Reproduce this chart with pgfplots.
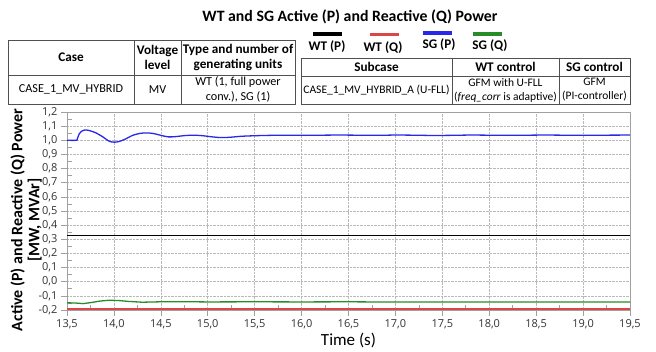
\documentclass[border=0pt]{standalone}
\usepackage{fontspec}
\setmainfont{Carlito}
\newfontfamily\tickfont{Open Sans}
\usepackage{pgfplots}
\pgfplotsset{compat=1.18}
\definecolor{sgblue}{RGB}{40,40,235}
\definecolor{sggreen}{RGB}{40,140,40}
\definecolor{wtred}{RGB}{220,70,70}
\definecolor{tabline}{RGB}{80,80,80}
\definecolor{frame}{RGB}{160,160,160}

\pgfplotstableread{
t v
13.5 1.0
13.6 1.0
13.61 1.01
13.63 1.045
13.66 1.066
13.69 1.073
13.73 1.07
13.8 1.055
13.88 1.025
13.95 0.993
14.0 0.987
14.05 0.99
14.12 1.008
14.2 1.035
14.28 1.049
14.35 1.052
14.42 1.048
14.5 1.035
14.58 1.024
14.66 1.026
14.75 1.033
14.85 1.036
14.95 1.032
15.05 1.024
15.15 1.019
15.25 1.022
15.35 1.028
15.45 1.031
15.6 1.034
15.8 1.036
16.0 1.035
16.2 1.036
16.4 1.037
16.6 1.036
16.8 1.035
17.0 1.037
17.2 1.036
17.4 1.034
17.6 1.035
17.8 1.037
18.0 1.036
18.2 1.035
18.4 1.036
18.6 1.037
18.8 1.036
19.0 1.035
19.2 1.036
19.5 1.037
}\sgP

\pgfplotstableread{
t v
13.5 -0.149
13.6 -0.151
13.67 -0.155
13.75 -0.148
13.85 -0.137
13.95 -0.131
14.05 -0.133
14.15 -0.139
14.3 -0.145
14.5 -0.142
14.7 -0.141
15.0 -0.143
15.5 -0.142
16.0 -0.143
16.5 -0.142
17.0 -0.144
17.5 -0.143
18.0 -0.144
18.5 -0.143
19.0 -0.144
19.5 -0.144
}\sgQ

\pgfplotstableread{
t v
13.5 -0.193
19.5 -0.193
}\wtQ

\pgfplotstableread{
t v
13.5 0.328
19.5 0.328
}\wtP

\begin{document}
\begin{tikzpicture}
\path[use as bounding box] (0,0) rectangle (656pt,-352pt);
\begin{scope}[x=1pt,y=-1pt]
% title
\node at (350,17) {\fontsize{15.8}{18}\selectfont\bfseries WT and SG Active (P) and Reactive (Q) Power};
% left table
\draw[tabline, line width=0.8pt] (8,40) rectangle (295,104);
\draw[tabline, line width=0.8pt] (8,75) -- (295,75) (134,40) -- (134,104) (181,40) -- (181,104);
\begin{scope}[every node/.style={font=\fontsize{13.2}{15}\selectfont\bfseries, align=center, inner sep=0pt}]
\node at (71,57.5) {Case};
\node at (157.5,57.5) {Voltage\\level};
\node at (238,57.5) {Type and number of\\generating units};
\node at (376.5,67) {Subcase};
\node at (505.5,67) {WT control};
\node at (594.5,67) {SG control};
% legend
\node at (327,47) {WT (P)};
\node at (383,48) {WT (Q)};
\node at (439,45) {SG (P)};
\node at (490,46) {SG (Q)};
\end{scope}
\begin{scope}[every node/.style={font=\fontsize{12.2}{14.5}\selectfont, align=center, inner sep=0pt}]
\node at (71,89.5) {CASE\_1\_MV\_HYBRID};
\node at (157.5,89.5) {MV};
\node at (238,89.5) {WT (1, full power\\conv.), SG (1)};
\end{scope}
\begin{scope}[every node/.style={font=\fontsize{11.5}{14}\selectfont, align=center, inner sep=0pt}]
\node at (376.5,90) {CASE\_1\_MV\_HYBRID\_A (U-FLL)};
\node at (505.5,90) {GFM with U-FLL\\(\textit{freq\_corr} is adaptive)};
\node at (594.5,90) {GFM\\(PI-controller)};
\end{scope}
\draw[tabline, line width=0.8pt] (301,58) rectangle (630,104);
\draw[tabline, line width=0.8pt] (301,76) -- (630,76) (452,58) -- (452,104) (559,58) -- (559,104);
\fill[black] (313,32.5) rectangle (342,36);
\fill[wtred] (370,33) rectangle (399,36.5);
\fill[sgblue] (423,31.5) rectangle (452,35);
\fill[sggreen] (473,32.5) rectangle (502,36);
\end{scope}

\begin{axis}[
  at={(67pt,-310pt)}, anchor=south west,
  scale only axis, width=563pt, height=198pt,
  xmin=13.5, xmax=19.5, ymin=-0.2, ymax=1.2,
  xtick={13.5,14,14.5,15,15.5,16,16.5,17,17.5,18,18.5,19,19.5},
  ytick={-0.2,-0.1,0,0.1,0.2,0.3,0.4,0.5,0.6,0.7,0.8,0.9,1.0,1.1,1.2},
  minor x tick num=1, minor y tick num=1,
  xtick pos=bottom, ytick pos=left,
  tick align=outside,
  major tick length=6pt, minor tick length=5pt,
  minor x tick style={yshift=5pt}, minor y tick style={xshift=5pt},
  tick style={frame, line width=0.6pt},
  axis line style={frame, line width=0.8pt},
  grid=major,
  major grid style={densely dotted, gray!55, line width=0.6pt},
  /pgf/number format/assume math mode=true,
  /pgf/number format/.cd, fixed, fixed zerofill, precision=1, use comma,
  /pgfplots/.cd,
  ticklabel style={font=\tickfont\fontsize{11}{13}\selectfont, text=black!80},
  xlabel={Time (s)},
  ylabel={Active (P) and Reactive (Q) Power\\{[}MW, MVAr{]}},
  xlabel style={at={(axis description cs:0.5,-0.152)}, anchor=center, font=\fontsize{17}{19}\selectfont},
  ylabel style={at={(axis description cs:-0.0728,0.4545)}, anchor=center, align=center, font=\fontsize{16}{17}\selectfont\bfseries},
]
\addplot[black, line width=1pt] table[x=t,y=v] {\wtP};
\addplot[wtred, line width=1.2pt] table[x=t,y=v] {\wtQ};
\addplot[sggreen, line width=1.3pt] table[x=t,y=v] {\sgQ};
\addplot[sgblue, line width=1.3pt, smooth] table[x=t,y=v] {\sgP};
\end{axis}
\end{tikzpicture}
\end{document}
